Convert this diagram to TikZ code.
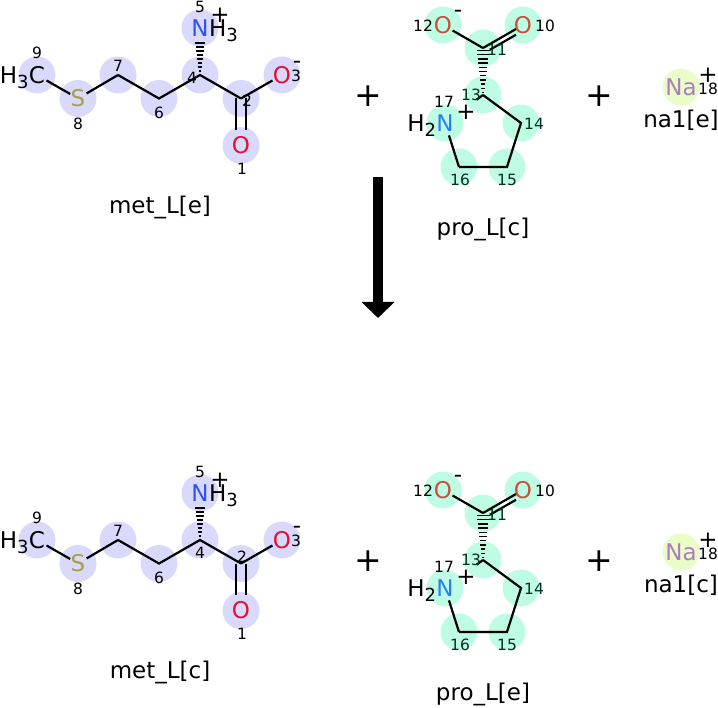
\documentclass[tikz,border=0pt]{standalone}
\usepackage{fontspec}
\setmainfont{DejaVu Sans}
\usetikzlibrary{positioning,calc,arrows.meta}
\definecolor{metbg}{RGB}{217,217,252}
\definecolor{probg}{RGB}{190,252,228}
\definecolor{nabg}{RGB}{234,252,200}
\definecolor{ored}{RGB}{228,16,52}
\definecolor{nblue}{RGB}{48,80,248}
\definecolor{sgold}{RGB}{168,160,64}
\definecolor{pored}{RGB}{200,80,60}
\definecolor{pnblue}{RGB}{40,128,240}
\definecolor{napurple}{RGB}{170,128,184}
\definecolor{inlbl}{RGB}{0,48,32}
\newcommand{\lowsub}[1]{\raisebox{-5pt}{\fontsize{18}{18}\selectfont #1}}
\begin{document}
\begin{tikzpicture}[x=1pt,y=-1pt,
    atom/.style={inner sep=0pt,font=\fontsize{23}{23}\selectfont},
    num/.style={inner sep=0pt,font=\fontsize{15.5}{15.5}\selectfont},
    chg/.style={inner sep=0pt,font=\fontsize{23}{23}\selectfont},
    capt/.style={inner sep=0pt,font=\fontsize{23}{23}\selectfont},
    bigplus/.style={inner sep=0pt,font=\fontsize{33}{33}\selectfont},
    bond/.style={line width=2.2pt},
    hash/.style={line width=1.4pt}]
  \useasboundingbox (0,0) rectangle (718,708);
  \foreach \dy/\metcap/\procap/\nacap/\fx/\fy/\tx/\ty in
    {0/met\_L[e]/pro\_L[c]/na1[e]/192/78/247/101,465/met\_L[c]/pro\_L[e]/na1[c]/200/88/242/92}{
  \begin{scope}[shift={(0,\dy)}]
    \coordinate (m9) at (37,75);
    \coordinate (m8) at (78,98.5);
    \coordinate (m7) at (118,75);
    \coordinate (m6) at (159,98.5);
    \coordinate (m4) at (200,75);
    \coordinate (m5) at (200,28);
    \coordinate (m2) at (241,98.5);
    \coordinate (m3) at (282,75);
    \coordinate (m1) at (241,145.5);
    \coordinate (p12) at (443,25);
    \coordinate (p10) at (523,25);
    \coordinate (p11) at (483,48);
    \coordinate (p13) at (483,95);
    \coordinate (p14) at (521,123);
    \coordinate (p15) at (507,167);
    \coordinate (p16) at (459,167);
    \coordinate (p17) at (445,123);
    \coordinate (na18) at (681,87);
    \foreach \a in {m1,m2,m3,m4,m5,m6,m7,m8,m9}
      \fill[metbg] (\a) circle [radius=18.5pt];
    \foreach \a in {p10,p11,p12,p13,p14,p15,p16,p17}
      \fill[probg] (\a) circle [radius=18.5pt];
    \fill[nabg] (na18) circle [radius=18.5pt];
    \draw[bond,shorten <=11pt,shorten >=9pt] (m9) -- (m8);
    \draw[bond,shorten <=10pt] (m8) -- (m7);
    \draw[bond] (m7) -- (m6) -- (m4) -- (m2);
    \draw[bond,shorten >=11pt] (m2) -- (m3);
    \draw[bond,shorten >=15.5pt] ([xshift=-5pt]m2) -- ([xshift=-5pt]m1);
    \draw[bond,shorten >=15.5pt] ([xshift=5pt]m2) -- ([xshift=5pt]m1);
    \foreach \i [evaluate=\i as \t using \i*0.085] in {0,...,8}
      \draw[hash] ($(m4)!\t!(m5)$) +(-0.5-0.55*\i,0) -- +(0.5+0.55*\i,0);
    \draw[bond,shorten <=11pt] (p12) -- (p11);
    \draw[bond,shorten >=8pt] (p11) -- (p10);
    \draw[bond,shorten <=5pt,shorten >=11pt] ([shift={(2.5,4.3)}]p11) -- ([shift={(2.5,4.3)}]p10);
    \foreach \i [evaluate=\i as \t using 0.05+\i*0.09] in {0,...,10}
      \draw[hash] ($(p13)!\t!(p11)$) +(-1-0.55*\i,0) -- +(1+0.55*\i,0);
    \draw[bond] (p13) -- (p14) -- (p15) -- (p16);
    \draw[bond,shorten >=13pt] (p16) -- (p17);
    \draw[bond] (p13) -- ($(p13)!8pt!(p17)$);
    \node[atom] (c9) at (m9) {C};
    \node[atom,anchor=base east] (h9) at (c9.base west) {H\lowsub{3}};
    \node[atom,text=sgold] (s8) at (m8) {S};
    \node[atom,text=ored] (o3) at (m3) {O};
    \node[atom,text=ored] (o1) at (m1) {O};
    \node[atom,text=nblue] (n5) at (m5) {N};
    \node[atom,anchor=base west] (h5) at (n5.base east) {H\lowsub{3}};
    \node[atom,text=pored] (o12) at (p12) {O};
    \node[atom,text=pored] (o10) at (p10) {O};
    \node[atom,text=pnblue] (n17) at (p17) {N};
    \node[atom,anchor=base east] (h17) at (n17.base west) {H\lowsub{2}};
    \node[atom,text=napurple] (na) at (na18) {Na};
    \node[num] (l9) at (37,53) {9};
    \node[num] (l8) at (78,124) {8};
    \node[num] (l7) at (118,66) {7};
    \node[num] (l6) at (159,113) {6};
    \node[num] (l5) at (200,7) {5};
    \node[num] (l4) at (\fx,\fy) {4};
    \node[num] (l2) at (\tx,\ty) {2};
    \node[num] (l3) at (296,76) {3};
    \node[num] (l1) at (242,169) {1};
    \node[num] (l12) at (423,26) {12};
    \node[num] (l10) at (545,26) {10};
    \node[num,text=inlbl] (l11) at (497,50) {11};
    \node[num,text=inlbl] (l13) at (471,95) {13};
    \node[num] (l17) at (444,102) {17};
    \node[num,text=inlbl] (l14) at (534,124) {14};
    \node[num,text=inlbl] (l15) at (507,180) {15};
    \node[num,text=inlbl] (l16) at (460,180) {16};
    \node[num] (l18) at (708,89) {18};
    \node[chg] (q5) at (220,15) {+};
    \node[chg] (q3) at (297,65) {-};
    \node[chg] (q12) at (458,14) {-};
    \node[chg] (q17) at (466,112) {+};
    \node[chg] (q18) at (708,75) {+};
    \node[bigplus] (plus1) at (368,96) {+};
    \node[bigplus] (plus2) at (599,96) {+};
    \node[capt] (metname) at (160,207) {\metcap};
    \node[capt] (proname) at (483,229) {\procap};
    \node[capt] (naname) at (681,120) {\nacap};
  \end{scope}}
  \coordinate (arrtop) at (378,177);
  \coordinate (arrtip) at (378,318);
  \draw[line width=10pt,-{Triangle[width=32pt,length=16pt]}] (arrtop) -- (arrtip);
\end{tikzpicture}
\end{document}
